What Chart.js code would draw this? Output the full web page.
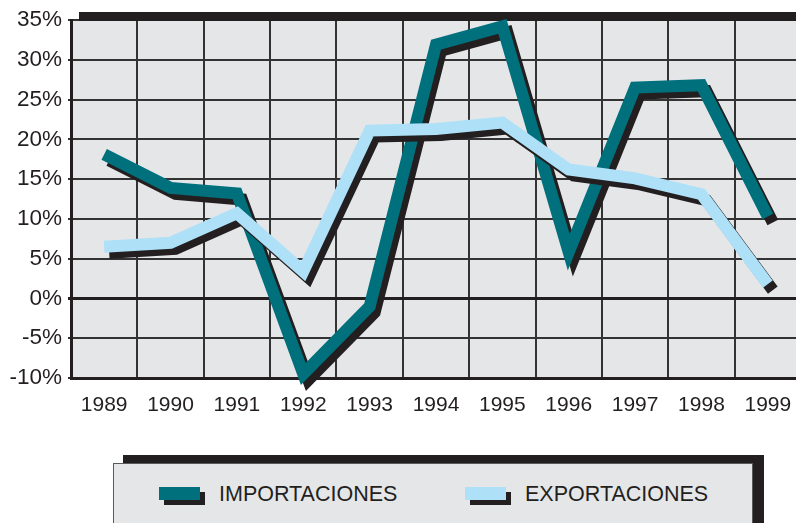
<!DOCTYPE html>
<html>
<head>
<meta charset="utf-8">
<script src="https://cdn.jsdelivr.net/npm/chart.js@4.4.1/dist/chart.umd.min.js"></script>
<style>
  html, body { margin: 0; padding: 0; background: #ffffff; overflow: hidden; width: 796px; height: 523px; }
  #wrap { position: relative; width: 796px; height: 523px; overflow: hidden; }
  #c { position: absolute; left: 0; top: 0; }
  .lg-shadow { position: absolute; left: 123px; top: 455px; width: 641px; height: 80px; background: #231f20; }
  .lg-box { position: absolute; left: 113px; top: 463px; width: 638px; height: 80px; background: #e5e6e8; border: 1px solid #58595b; }
  .sw { position: absolute; width: 41px; height: 13px; }
  .lbl { position: absolute; font-family: "Liberation Sans", Arial, sans-serif; font-size: 21.5px; line-height: 21.5px; color: #231f20; white-space: nowrap; }
</style>
</head>
<body>
<div id="wrap">
  <canvas id="c" width="810" height="523"></canvas>
  <div class="lg-shadow"></div>
  <div class="lg-box"></div>
  <div class="sw" style="left:164px;top:492px;background:#231f20"></div>
  <div class="sw" style="left:159px;top:487px;background:#00707c"></div>
  <div class="lbl" style="left:219px;top:484px">IMPORTACIONES</div>
  <div class="sw" style="left:470px;top:492px;background:#231f20"></div>
  <div class="sw" style="left:465px;top:487px;background:#aee0f8"></div>
  <div class="lbl" style="left:525px;top:484px">EXPORTACIONES</div>
</div>
<script>
const years = ["1989","1990","1991","1992","1993","1994","1995","1996","1997","1998","1999"];
const importaciones = [18.1, 13.9, 13.2, -9.5, -1, 31.9, 34.2, 5.8, 26.5, 26.8, 10.3];
const exportaciones = [6.5, 7.0, 10.7, 3.4, 21.1, 21.3, 22.1, 16.2, 15.1, 13.1, 1.8];
const seriesNames = ["IMPORTACIONES", "EXPORTACIONES"];
const yTicks = [-10, -5, 0, 5, 10, 15, 20, 25, 30, 35];

const TEAL = "#00707c";
const SKY = "#aee0f8";
const INK = "#231f20";

const bgPlugin = {
  id: "bgPlugin",
  beforeDraw(chart) {
    const { ctx, chartArea: a } = chart;
    ctx.save();
    ctx.fillStyle = "#e5e6e8";
    ctx.fillRect(a.left, a.top, a.right - a.left, a.bottom - a.top);
    ctx.restore();
  },
  beforeDatasetsDraw(chart) {
    const { ctx, chartArea: a } = chart;
    ctx.save();
    ctx.fillStyle = INK;
    ctx.fillRect(a.left + 8, a.top - 8, chart.width - a.left - 8, 9);
    ctx.restore();
  }
};

const shadowPlugin = {
  id: "shadowPlugin",
  beforeDatasetDraw(chart, args) {
    const ctx = chart.ctx;
    ctx.save();
    ctx.shadowColor = INK;
    ctx.shadowOffsetX = 5;
    ctx.shadowOffsetY = 6;
    ctx.shadowBlur = 0;
  },
  afterDatasetDraw(chart, args) {
    chart.ctx.restore();
  }
};

new Chart(document.getElementById("c"), {
  type: "line",
  data: {
    labels: years,
    datasets: [
      {
        label: seriesNames[0],
        data: importaciones,
        borderColor: TEAL,
        borderWidth: 12,
        borderJoinStyle: "miter",
        borderCapStyle: "butt",
        pointRadius: 0,
        tension: 0,
        fill: false,
        clip: false,
        order: 1
      },
      {
        label: seriesNames[1],
        data: exportaciones,
        borderColor: SKY,
        borderWidth: 12,
        borderJoinStyle: "miter",
        borderCapStyle: "butt",
        pointRadius: 0,
        tension: 0,
        fill: false,
        clip: false,
        order: 0
      }
    ]
  },
  options: {
    responsive: false,
    animation: false,
    devicePixelRatio: 1,
    layout: { padding: { top: 20, right: 9, left: 0, bottom: 0 } },
    plugins: { legend: { display: false }, tooltip: { enabled: false } },
    scales: {
      x: {
        type: "category",
        offset: true,
        grid: { offset: true, color: "#333333", lineWidth: 2, drawTicks: false },
        border: { display: true, color: INK, width: 3 },
        ticks: {
          color: INK,
          padding: 15,
          maxRotation: 0,
          autoSkip: false,
          font: { family: "'Liberation Sans', Arial, sans-serif", size: 21 }
        },
        afterFit(scale) { scale.height = 145; }
      },
      y: {
        min: -10,
        max: 35,
        afterBuildTicks(scale) { scale.ticks = yTicks.map(v => ({ value: v })); },
        grid: {
          color: (c) => (c.tick && c.tick.value === 0) ? INK : "#333333",
          lineWidth: (c) => (c.tick && c.tick.value === 0) ? 3 : 2,
          drawTicks: true,
          tickLength: 3
        },
        border: { display: true, color: INK, width: 3 },
        ticks: {
          color: INK,
          padding: 6,
          font: { family: "'Liberation Sans', Arial, sans-serif", size: 22.5 },
          callback: (v) => v + "%"
        },
        afterFit(scale) { scale.width = 71; }
      }
    }
  },
  plugins: [bgPlugin, shadowPlugin]
});
</script>
</body>
</html>
